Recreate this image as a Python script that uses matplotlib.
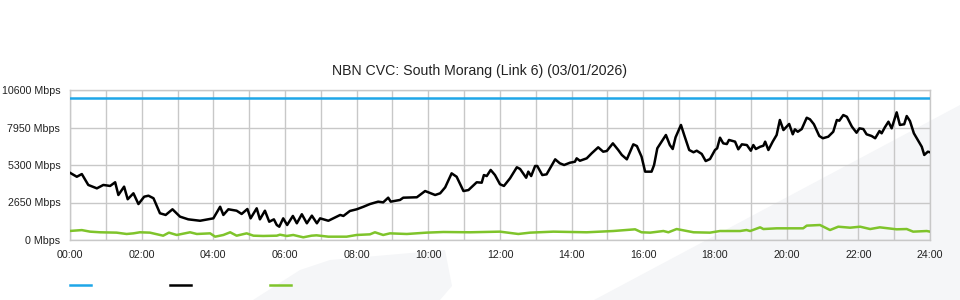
import matplotlib
matplotlib.use("Agg")
import matplotlib.pyplot as plt
from matplotlib.patches import Polygon
from matplotlib.lines import Line2D

plt.rcParams['font.family'] = ['Liberation Sans', 'DejaVu Sans']

title = "NBN CVC: South Morang (Link 6) (03/01/2026)"
y_ticks = [0, 2650, 5300, 7950, 10600]
x_ticks = list(range(0, 25, 2))
x_labels = ["%02d:00" % h for h in x_ticks]
capacity = 10000

# black series (hours, Mbps)
traffic_t = [0.0, 0.19, 0.33, 0.51, 0.75, 0.93, 1.12, 1.26, 1.35, 1.51, 1.61, 1.77,
             1.91, 2.07, 2.19, 2.33, 2.51, 2.67, 2.86, 3.07, 3.30, 3.63, 4.00, 4.19,
             4.28, 4.42, 4.65, 4.79, 4.95, 5.04, 5.21, 5.30, 5.44, 5.56, 5.69, 5.77,
             5.84, 5.95, 6.06, 6.22, 6.33, 6.47, 6.61, 6.75, 6.89, 6.98, 7.21, 7.54,
             7.63, 7.81, 8.00, 8.19, 8.37, 8.60, 8.74, 8.88, 8.95, 9.21, 9.30, 9.68,
             9.91, 10.19, 10.33, 10.47, 10.65, 10.79, 10.98, 11.12, 11.35, 11.49, 11.55, 11.63,
             11.74, 11.86, 12.00, 12.11, 12.28, 12.47, 12.56, 12.73, 12.79, 12.87, 12.98, 13.04,
             13.18, 13.30, 13.54, 13.67, 13.79, 13.95, 14.09, 14.14, 14.23, 14.42, 14.56, 14.74,
             14.88, 14.98, 15.15, 15.30, 15.40, 15.54, 15.72, 15.82, 15.95, 16.05, 16.23, 16.30,
             16.39, 16.51, 16.63, 16.74, 16.82, 16.90, 17.05, 17.14, 17.28, 17.40, 17.49, 17.63,
             17.74, 17.86, 18.00, 18.06, 18.14, 18.23, 18.33, 18.39, 18.56, 18.65, 18.75, 18.89,
             19.00, 19.07, 19.14, 19.26, 19.35, 19.40, 19.49, 19.61, 19.72, 19.81, 19.91, 20.07,
             20.17, 20.23, 20.31, 20.42, 20.56, 20.65, 20.76, 20.91, 21.01, 21.16, 21.30, 21.40,
             21.47, 21.58, 21.68, 21.82, 21.95, 22.03, 22.14, 22.23, 22.37, 22.47, 22.59, 22.65,
             22.74, 22.84, 22.93, 23.07, 23.16, 23.28, 23.35, 23.44, 23.55, 23.67, 23.77, 23.84,
             23.94, 24.0]
traffic_v = [4750, 4470, 4660, 3890, 3650, 3890, 3820, 4080, 3180, 3770, 2880, 3300,
             2540, 3060, 3130, 2950, 1890, 1770, 2170, 1650, 1460, 1360, 1530, 2350,
             1770, 2170, 2070, 1840, 2190, 1530, 2240, 1460, 2070, 1290, 1460, 1060,
             940, 1530, 1060, 1700, 1180, 1820, 1180, 1720, 1180, 1530, 1360, 1770,
             1700, 2050, 2170, 2350, 2540, 2710, 2660, 2990, 2710, 2830, 2990, 3020,
             3460, 3180, 3300, 3720, 4710, 4470, 3460, 3530, 4080, 4050, 4590, 4520,
             4950, 4590, 3940, 3820, 4360, 5140, 5020, 4400, 4830, 4520, 5230, 5230,
             4590, 4640, 5700, 5420, 5300, 5460, 5530, 5770, 5600, 5770, 6130, 6550,
             6240, 6290, 6830, 6360, 6010, 5700, 6760, 6640, 5890, 4830, 4830, 5300,
             6480, 6950, 7420, 6710, 6430, 7260, 8130, 7420, 6360, 6200, 6310, 6080,
             5580, 5720, 6360, 6480, 7230, 6830, 6780, 7070, 6950, 6410, 6760, 6710,
             6310, 6710, 6430, 6590, 6660, 6950, 6360, 6950, 7420, 8480, 7770, 8200,
             7470, 7820, 7650, 7840, 8640, 8530, 8180, 7350, 7190, 7300, 7650, 8480,
             8430, 8830, 8710, 8010, 7580, 7890, 7840, 7470, 7350, 7190, 7700, 7540,
             7960, 8360, 7890, 9020, 8130, 8180, 8760, 8410, 7540, 7020, 6590, 6010,
             6240, 6200]

# green series (hours, Mbps)
green_t = [0.0, 0.33, 0.56, 0.84, 1.30, 1.58, 1.77, 1.95, 2.23, 2.60, 2.76, 2.98,
           3.35, 3.54, 3.91, 4.05, 4.28, 4.47, 4.65, 4.93, 5.12, 5.39, 5.77, 5.86,
           6.05, 6.23, 6.51, 6.74, 6.88, 7.21, 7.72, 8.00, 8.37, 8.51, 8.74, 8.93,
           9.40, 9.95, 10.42, 11.16, 12.00, 12.51, 12.84, 13.49, 14.42, 15.16, 15.77, 15.95,
           16.19, 16.56, 16.70, 16.93, 17.40, 17.86, 18.14, 18.70, 18.88, 18.98, 19.26, 19.35,
           19.72, 20.46, 20.56, 20.93, 21.21, 21.44, 21.77, 22.05, 22.33, 22.60, 23.07, 23.35,
           23.53, 23.91, 24.0]
green_v = [640, 700, 590, 545, 520, 425, 470, 545, 520, 305, 520, 355,
           545, 425, 470, 235, 355, 545, 305, 470, 305, 285, 305, 375,
           285, 355, 190, 305, 330, 235, 235, 355, 400, 545, 355, 470,
           425, 520, 565, 545, 590, 425, 520, 590, 545, 635, 755, 545,
           520, 635, 545, 775, 545, 520, 635, 635, 705, 635, 895, 775,
           825, 825, 1015, 1060, 705, 940, 870, 940, 775, 895, 755, 775,
           590, 635, 590]

blue = '#1ea6e8'
green = '#7fc42b'
shade = '#f5f6f8'

fig = plt.figure(figsize=(9.6, 3.0), dpi=100)

# faint watermark shapes behind the chart
W, H = 960.0, 300.0
def fig_poly(pts):
    return Polygon([(x / W, 1 - y / H) for x, y in pts], closed=True,
                   transform=fig.transFigure, facecolor=shade, edgecolor='none', zorder=-5)
fig.patches.append(fig_poly([(253, 300), (300, 270), (330, 260), (445, 250), (452, 286), (440, 300)]))
fig.patches.append(fig_poly([(594, 300), (960, 105), (960, 300)]))

ax = fig.add_axes([70 / W, 0.2, 860 / W, 0.5])
ax.set_facecolor('none')
ax.set_zorder(2)

ax.set_xlim(0, 24)
ax.set_ylim(0, 10600)
ax.set_xticks(x_ticks)
ax.set_xticklabels(x_labels)
ax.set_xticks(range(25), minor=True)
ax.set_yticks(y_ticks)
ax.set_yticklabels(["%d Mbps" % v for v in y_ticks])
ax.tick_params(which='both', length=0, labelsize=7.7, colors='#222222')
ax.tick_params(axis='y', pad=7)
ax.tick_params(axis='x', pad=7)
ax.grid(True, which='both', color='#c8c8c8', linewidth=1.0)
ax.set_axisbelow(True)
for s in ax.spines.values():
    s.set_color('#c8c8c8')
    s.set_linewidth(1.0)

ax.axhline(capacity, color=blue, linewidth=1.8, zorder=3)
ax.plot(green_t, green_v, color=green, linewidth=1.8, zorder=3)
ax.plot(traffic_t, traffic_v, color='black', linewidth=1.8, zorder=4)

fig.text(0.5, 1 - 71 / H, title, ha='center', va='center', fontsize=10.2, color='#222222')

# legend keys (labels are blank in the original)
for x0, c in [(70, blue), (170, 'black'), (270, green)]:
    fig.add_artist(Line2D([x0 / W, (x0 + 21) / W], [1 - 285 / H] * 2,
                          color=c, linewidth=1.8, transform=fig.transFigure, zorder=3))

fig.savefig('out.png', dpi=100)
